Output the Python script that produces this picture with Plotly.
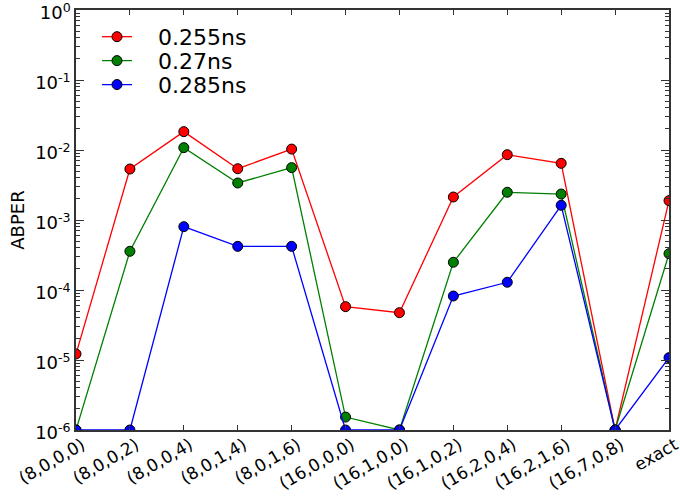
import plotly.graph_objects as go

# Configurations along the x axis
configs = ["(8,0,0,0)", "(8,0,0,2)", "(8,0,0,4)", "(8,0,1,4)", "(8,0,1,6)",
           "(16,0,0,0)", "(16,1,0,0)", "(16,1,0,2)", "(16,2,0,4)",
           "(16,2,1,6)", "(16,7,0,8)", "exact"]

# ABPER per configuration for each clock period (floor of the plot is 1e-6)
abper_0255 = [1.22e-5, 5.35e-3, 1.83e-2, 5.4e-3, 1.03e-2, 5.78e-5, 4.74e-5,
              2.13e-3, 8.57e-3, 6.45e-3, 1e-6, 1.89e-3]
abper_027 = [1e-6, 3.57e-4, 1.08e-2, 3.38e-3, 5.6e-3, 1.53e-6, 1e-6,
             2.49e-4, 2.49e-3, 2.35e-3, 1e-6, 3.3e-4]
abper_0285 = [1e-6, 1e-6, 8.03e-4, 4.2e-4, 4.2e-4, 1e-6, 1e-6,
              8.2e-5, 1.29e-4, 1.62e-3, 1e-6, 1.08e-5]

series = [("0.255ns", abper_0255, "#ff0000"),
          ("0.27ns", abper_027, "#008000"),
          ("0.285ns", abper_0285, "#0000ff")]

ytick_vals = [1e-6, 1e-5, 1e-4, 1e-3, 1e-2, 1e-1, 1e0]
ytick_text = ["10<sup>-6</sup>", "10<sup>-5</sup>", "10<sup>-4</sup>",
              "10<sup>-3</sup>", "10<sup>-2</sup>", "10<sup>-1</sup>",
              "10<sup>0</sup>"]

fig = go.Figure()
xs = list(range(len(configs)))
legend_ids = ["legend", "legend2", "legend3"]
pad = "\u00a0\u00a0\u00a0"  # gap between legend symbol and label
for (name, vals, color), lid in zip(series, legend_ids):
    fig.add_trace(go.Scatter(
        x=xs, y=vals, name=pad + name, mode="lines+markers",
        line=dict(color=color, width=1.3),
        marker=dict(color=color, size=10, line=dict(color="black", width=1)),
        cliponaxis=True, legend=lid,
    ))

font = dict(family="DejaVu Sans", size=17, color="black")
legend_font = dict(family="DejaVu Sans", size=22, color="black")


def legend_box(ypos):
    return dict(x=0.0354, y=ypos, xanchor="left", yanchor="middle",
                bgcolor="rgba(0,0,0,0)", font=legend_font, itemwidth=30)


fig.update_layout(
    width=680, height=497,
    margin=dict(l=76, r=11, t=10, b=67, autoexpand=False),
    paper_bgcolor="white", plot_bgcolor="white",
    font=font,
    showlegend=True,
    legend=legend_box(0.936),
    legend2=legend_box(0.879),
    legend3=legend_box(0.822),
)
fig.update_xaxes(
    range=[0, len(configs) - 1], tickmode="array", tickvals=xs, ticktext=configs,
    tickangle=-30, ticks="inside", ticklen=5, tickcolor="#333333",
    showline=True, linecolor="#333333", linewidth=1.5, mirror="ticks",
    showgrid=False, zeroline=False, tickfont=font, ticklabelshift=6,
    ticklabelstandoff=-3, ticklabeloverflow="allow", automargin=False,
)
fig.update_yaxes(
    type="log", range=[-6, 0], tickmode="array", tickvals=ytick_vals,
    ticktext=ytick_text, ticks="inside", ticklen=8, tickcolor="#333333",
    showline=True, linecolor="#333333", linewidth=1.5, mirror="ticks",
    showgrid=False, zeroline=False, tickfont=dict(family="DejaVu Sans", size=18),
    minor=dict(ticks="inside", ticklen=4, tickcolor="#333333", dtick="D1",
               showgrid=False),
    title=dict(text="ABPER", font=dict(family="DejaVu Sans", size=18), standoff=6),
    ticklabelshift=3, ticklabeloverflow="allow", automargin=False,
)

fig.write_html("out.html")
